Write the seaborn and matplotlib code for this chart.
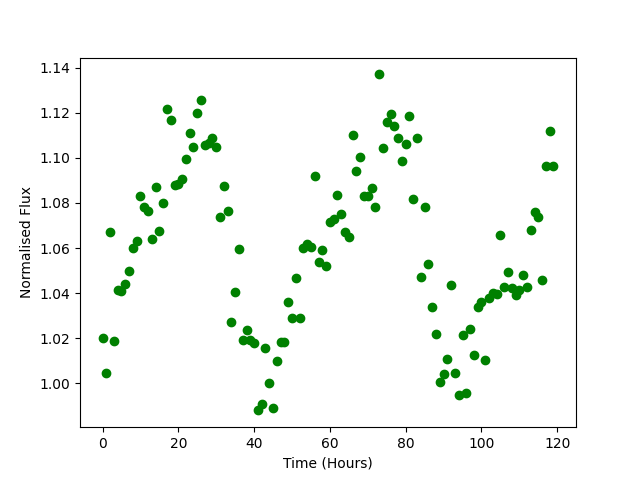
import numpy as np
import pandas as pd
import matplotlib
matplotlib.use('Agg')
import matplotlib.pyplot as plt
import seaborn as sns

# Hourly normalised flux readings
hours = list(range(120))
flux = [
    1.020, 1.0044, 1.067, 1.0187, 1.0413, 1.041, 1.044, 1.050, 1.060, 1.063,
    1.083, 1.078, 1.0765, 1.064, 1.087, 1.0676, 1.080, 1.1218, 1.117, 1.088,
    1.0884, 1.0907, 1.0996, 1.111, 1.105, 1.120, 1.1258, 1.1058, 1.1067, 1.109,
    1.105, 1.0738, 1.0876, 1.0764, 1.027, 1.0404, 1.0596, 1.019, 1.0236, 1.019,
    1.018, 0.988, 0.991, 1.0156, 1.000, 0.989, 1.0098, 1.0182, 1.0182, 1.036,
    1.029, 1.0467, 1.029, 1.060, 1.062, 1.0604, 1.092, 1.0538, 1.059, 1.052,
    1.0716, 1.073, 1.0836, 1.075, 1.067, 1.065, 1.110, 1.094, 1.1004, 1.083,
    1.083, 1.0866, 1.078, 1.137, 1.1044, 1.116, 1.1196, 1.1142, 1.109, 1.0987,
    1.106, 1.1187, 1.0818, 1.109, 1.047, 1.078, 1.053, 1.0338, 1.0218, 1.0004,
    1.004, 1.0107, 1.0436, 1.0044, 0.9947, 1.0213, 0.9956, 1.024, 1.0124, 1.034,
    1.036, 1.0102, 1.038, 1.040, 1.0396, 1.0658, 1.0427, 1.0493, 1.0422, 1.039,
    1.0413, 1.048, 1.0427, 1.068, 1.076, 1.0738, 1.046, 1.0964, 1.112, 1.0964,
]

df = pd.DataFrame({'hours': hours, 'flux': flux})

fig, ax = plt.subplots(figsize=(6.4, 4.8), dpi=100)
sns.scatterplot(data=df, x='hours', y='flux', color='green', s=36,
                edgecolor='green', linewidth=1, ax=ax)
ax.set_xlabel('Time (Hours)')
ax.set_ylabel('Normalised Flux')
fig.savefig('out.png', dpi=100)
